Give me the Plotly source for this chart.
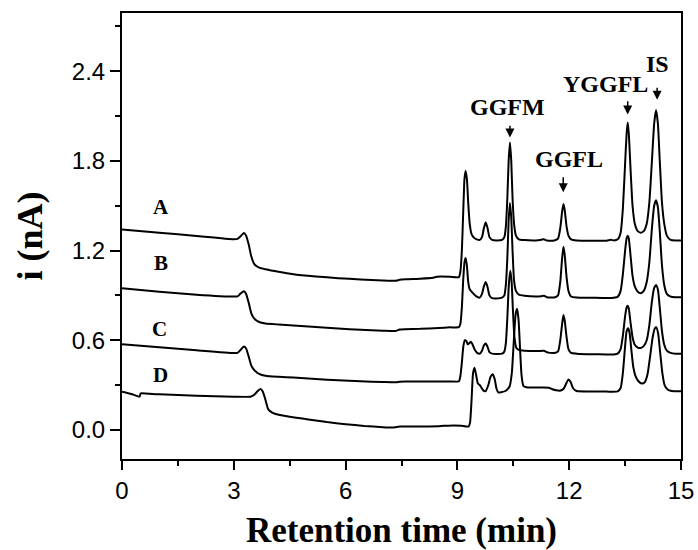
import plotly.graph_objects as go

# ---------------- data ----------------
xA = [0, 1, 2, 3.0, 3.1, 3.18, 3.27, 3.33, 3.40, 3.47, 3.55, 3.68, 3.85, 4.2, 4.6, 5.2, 5.8, 6.4, 7.0, 7.35, 7.45, 7.6, 8.0, 8.35, 8.45, 8.8, 9.04,
      9.08, 9.12, 9.155, 9.19, 9.22, 9.255, 9.29, 9.33, 9.38, 9.45, 9.52, 9.6, 9.66, 9.71, 9.76, 9.81, 9.86, 9.93, 10.05, 10.2,
      10.26, 10.3, 10.34, 10.375, 10.41, 10.445, 10.48, 10.52, 10.57, 10.65, 10.8, 11.1, 11.25, 11.32, 11.4, 11.6, 11.7, 11.76, 11.81,
      11.845, 11.88, 11.93, 11.98, 12.05, 12.2, 12.6, 13.0, 13.12, 13.2, 13.3, 13.38, 13.44, 13.5, 13.54, 13.57, 13.6, 13.645, 13.7,
      13.76, 13.84, 13.92, 14.0, 14.08, 14.15, 14.22, 14.28, 14.33, 14.38, 14.43, 14.49, 14.55, 14.62, 14.72, 14.85, 15.0]
yA = [1.341, 1.32, 1.298, 1.276, 1.278, 1.295, 1.318, 1.30, 1.24, 1.16, 1.11, 1.086, 1.075, 1.058, 1.042, 1.027, 1.015, 1.007, 1.0, 0.998, 1.004, 1.008, 1.012, 1.018, 1.025, 1.025, 1.022,
      1.06, 1.2, 1.45, 1.68, 1.733, 1.68, 1.52, 1.38, 1.31, 1.285, 1.275, 1.272, 1.29, 1.35, 1.39, 1.35, 1.29, 1.272, 1.268, 1.272,
      1.29, 1.36, 1.55, 1.8, 1.923, 1.8, 1.55, 1.38, 1.3, 1.275, 1.27, 1.268, 1.272, 1.276, 1.268, 1.268, 1.28, 1.35, 1.46,
      1.512, 1.47, 1.36, 1.3, 1.275, 1.268, 1.266, 1.266, 1.272, 1.268, 1.275, 1.32, 1.48, 1.78, 1.98, 2.057, 1.98, 1.75, 1.5,
      1.38, 1.33, 1.32, 1.33, 1.38, 1.52, 1.8, 2.05, 2.14, 2.05, 1.8, 1.52, 1.38, 1.3, 1.272, 1.268, 1.268]

xB = [0, 1, 2, 3.0, 3.1, 3.18, 3.27, 3.33, 3.40, 3.47, 3.55, 3.68, 3.85, 4.2, 4.6, 5.2, 5.8, 6.4, 7.0, 7.35, 7.45, 7.6, 8.0, 8.5, 8.8, 9.04,
      9.08, 9.12, 9.155, 9.19, 9.22, 9.255, 9.29, 9.33, 9.4, 9.5, 9.6, 9.66, 9.71, 9.76, 9.81, 9.86, 9.93, 10.05, 10.2,
      10.26, 10.3, 10.34, 10.375, 10.41, 10.445, 10.48, 10.52, 10.57, 10.65, 10.8, 11.1, 11.25, 11.32, 11.4, 11.6, 11.7, 11.76, 11.81,
      11.845, 11.88, 11.93, 11.98, 12.05, 12.2, 12.6, 13.0, 13.2, 13.3, 13.38, 13.44, 13.5, 13.54, 13.57, 13.6, 13.645, 13.7,
      13.76, 13.84, 13.92, 14.0, 14.08, 14.15, 14.22, 14.28, 14.33, 14.38, 14.43, 14.49, 14.55, 14.62, 14.72, 14.85, 15.0]
yB = [0.947, 0.925, 0.905, 0.892, 0.893, 0.912, 0.927, 0.91, 0.85, 0.78, 0.745, 0.722, 0.712, 0.705, 0.698, 0.688, 0.678, 0.67, 0.664, 0.662, 0.672, 0.674, 0.676, 0.682, 0.686, 0.688,
      0.71, 0.82, 1.0, 1.12, 1.151, 1.1, 0.99, 0.94, 0.92, 0.895, 0.885, 0.91, 0.96, 0.99, 0.955, 0.9, 0.882, 0.88, 0.885,
      0.9, 0.97, 1.15, 1.4, 1.518, 1.42, 1.2, 1.0, 0.93, 0.905, 0.898, 0.893, 0.895, 0.898, 0.888, 0.886, 0.9, 0.99, 1.15,
      1.225, 1.17, 1.02, 0.93, 0.893, 0.886, 0.884, 0.882, 0.884, 0.89, 0.93, 1.04, 1.2, 1.28, 1.30, 1.28, 1.17, 1.03,
      0.96, 0.925, 0.915, 0.93, 0.99, 1.12, 1.35, 1.5, 1.536, 1.49, 1.33, 1.1, 0.97, 0.91, 0.892, 0.887, 0.887]

xC = [0, 1, 2, 3.0, 3.1, 3.18, 3.27, 3.33, 3.40, 3.47, 3.55, 3.68, 3.85, 4.2, 4.6, 5.2, 5.8, 6.4, 7.0, 7.35, 7.45, 7.6, 8.0, 8.5, 8.8, 9.04,
      9.08, 9.12, 9.16, 9.2, 9.24, 9.28, 9.32, 9.36, 9.4, 9.46, 9.53, 9.6, 9.66, 9.71, 9.76, 9.81, 9.86, 9.93, 10.05, 10.2,
      10.26, 10.3, 10.34, 10.38, 10.42, 10.455, 10.49, 10.53, 10.58, 10.65, 10.8, 11.1, 11.25, 11.32, 11.4, 11.6, 11.7, 11.76, 11.81,
      11.845, 11.88, 11.93, 11.98, 12.05, 12.2, 12.6, 13.0, 13.2, 13.3, 13.38, 13.44, 13.5, 13.54, 13.57, 13.6, 13.645, 13.7,
      13.76, 13.84, 13.92, 14.0, 14.08, 14.15, 14.22, 14.28, 14.33, 14.38, 14.43, 14.49, 14.55, 14.62, 14.72, 14.85, 15.0]
yC = [0.573, 0.553, 0.533, 0.514, 0.515, 0.535, 0.558, 0.545, 0.49, 0.43, 0.4, 0.375, 0.362, 0.355, 0.35, 0.34, 0.332, 0.325, 0.32, 0.318, 0.322, 0.324, 0.324, 0.323, 0.324, 0.325,
      0.36, 0.45, 0.56, 0.6, 0.595, 0.572, 0.58, 0.59, 0.575, 0.54, 0.515, 0.51, 0.53, 0.565, 0.578, 0.555, 0.52, 0.51, 0.508, 0.51,
      0.525, 0.58, 0.75, 0.97, 1.065, 0.99, 0.8, 0.62, 0.55, 0.535, 0.53, 0.527, 0.528, 0.53, 0.52, 0.515, 0.525, 0.6, 0.71,
      0.768, 0.73, 0.62, 0.54, 0.515, 0.51, 0.506, 0.505, 0.505, 0.51, 0.54, 0.63, 0.76, 0.82, 0.83, 0.81, 0.72, 0.62,
      0.57, 0.55, 0.548, 0.56, 0.6, 0.7, 0.86, 0.95, 0.97, 0.94, 0.82, 0.66, 0.57, 0.53, 0.515, 0.51, 0.51]

xD = [0, 0.25, 0.47, 0.5, 0.53, 1.0, 2.0, 3.0, 3.45, 3.55, 3.65, 3.72, 3.78, 3.85, 3.92, 4.0, 4.1, 4.5, 5.0, 5.5, 6.0, 6.5, 7.0, 7.3, 7.45, 7.6, 8.0, 8.5, 8.9, 9.1, 9.3,
      9.34, 9.38, 9.42, 9.46, 9.5, 9.55, 9.6, 9.65, 9.7, 9.76, 9.83, 9.89, 9.95, 10.0, 10.05, 10.1, 10.17, 10.3, 10.4, 10.46, 10.51, 10.56,
      10.6, 10.64, 10.68, 10.72, 10.77, 10.85, 11.0, 11.3, 11.45, 11.55, 11.65, 11.75, 11.85, 11.92, 11.98, 12.04, 12.1, 12.2, 12.6, 13.0,
      13.3, 13.38, 13.44, 13.5, 13.54, 13.58, 13.62, 13.67, 13.72, 13.78, 13.86, 13.95, 14.03, 14.1, 14.17, 14.24, 14.3, 14.34, 14.39,
      14.44, 14.5, 14.56, 14.64, 14.75, 15.0]
yD = [0.255, 0.24, 0.222, 0.243, 0.245, 0.238, 0.228, 0.222, 0.222, 0.235, 0.262, 0.273, 0.255, 0.2, 0.14, 0.12, 0.108, 0.088, 0.07, 0.052, 0.038, 0.026, 0.018, 0.016, 0.022, 0.022, 0.022, 0.025, 0.03, 0.028, 0.022,
      0.05, 0.2, 0.38, 0.416, 0.37, 0.31, 0.3, 0.28, 0.262, 0.26, 0.3, 0.355, 0.372, 0.34, 0.275, 0.25, 0.252, 0.262, 0.29, 0.38, 0.58, 0.77,
      0.81, 0.74, 0.55, 0.37, 0.295, 0.285, 0.283, 0.283, 0.282, 0.272, 0.265, 0.262, 0.275, 0.31, 0.337, 0.32, 0.28, 0.26, 0.257, 0.256,
      0.257, 0.28, 0.38, 0.56, 0.66, 0.68, 0.65, 0.53, 0.42, 0.36, 0.325, 0.31, 0.32, 0.37, 0.49, 0.62, 0.68, 0.686, 0.64,
      0.52, 0.38, 0.3, 0.27, 0.26, 0.258]

series = [("A", xA, yA), ("B", xB, yB), ("C", xC, yC), ("D", xD, yD)]

trace_labels = ["A", "B", "C", "D"]
trace_label_x = [1.04, 1.04, 1.0, 1.04]
trace_label_y = [1.49, 1.118, 0.675, 0.367]

peak_names = ["GGFM", "GGFL", "YGGFL", "IS"]
peak_text_x = [10.35, 12.0, 12.98, 14.38]
peak_text_y = [2.16, 1.815, 2.315, 2.45]
arrow_x = [10.41, 11.84, 13.57, 14.36]
arrow_top = [2.046, 1.70, 2.21, 2.30]
arrow_tip = [1.956, 1.59, 2.11, 2.21]

x_ticks = [0, 3, 6, 9, 12, 15]
y_ticks = [0.0, 0.6, 1.2, 1.8, 2.4]

# ---------------- figure ----------------
fig = go.Figure()
for name, xs, ys in series:
    fig.add_trace(go.Scatter(x=xs, y=ys, mode="lines", name=name,
                             line=dict(color="black", width=2, shape="spline", smoothing=0.5),
                             showlegend=False, hoverinfo="skip"))

serif = "Liberation Serif, Times New Roman, serif"
sans = "Liberation Sans Narrow, Arial Narrow, Liberation Sans, Arial, sans-serif"

ann = []
for t, xx, yy in zip(trace_labels, trace_label_x, trace_label_y):
    ann.append(dict(x=xx, y=yy, xref="x", yref="y", text="<b>%s</b>" % t, showarrow=False,
                    font=dict(family=serif, size=21, color="black")))
for t, xx, yy in zip(peak_names, peak_text_x, peak_text_y):
    ann.append(dict(x=xx, y=yy, xref="x", yref="y", text="<b>%s</b>" % t, showarrow=False,
                    font=dict(family=serif, size=24, color="black")))
for xx, yt, yb in zip(arrow_x, arrow_top, arrow_tip):
    ann.append(dict(x=xx, y=yb, xref="x", yref="y", ax=xx, ay=yt, axref="x", ayref="y",
                    text="", showarrow=True, arrowhead=2, arrowsize=1.2, arrowwidth=1.5,
                    arrowcolor="black"))

fig.update_layout(
    width=698, height=550,
    margin=dict(l=122, r=17, t=13, b=91, autoexpand=False),
    paper_bgcolor="white", plot_bgcolor="white",
    annotations=ann,
    xaxis=dict(range=[0, 15], tickvals=x_ticks, ticktext=[str(v) for v in x_ticks],
               automargin=False,
               ticks="outside", ticklen=9, tickwidth=2, tickcolor="black",
               minor=dict(dtick=1.5, tick0=0, ticks="outside", ticklen=5, tickwidth=2, tickcolor="black"),
               showline=True, linewidth=2, linecolor="black", mirror=True,
               showgrid=False, zeroline=False,
               tickfont=dict(family=sans, size=24, color="black"),
               title=dict(text="<b>Retention time (min)</b>", standoff=19,
                          font=dict(family=serif, size=35, color="black"))),
    yaxis=dict(range=[-0.195, 2.79], tickvals=y_ticks, ticktext=["%.1f" % v for v in y_ticks],
               automargin=False,
               ticks="outside", ticklen=10, tickwidth=2, tickcolor="black",
               minor=dict(dtick=0.3, tick0=0, ticks="outside", ticklen=5, tickwidth=2, tickcolor="black"),
               showline=True, linewidth=2, linecolor="black", mirror=True,
               showgrid=False, zeroline=False,
               tickfont=dict(family=sans, size=24, color="black"),
               title=dict(text="<b>i (nA)</b>", standoff=18,
                          font=dict(family=serif, size=36, color="black"))),
)

fig.write_html("out.html")
